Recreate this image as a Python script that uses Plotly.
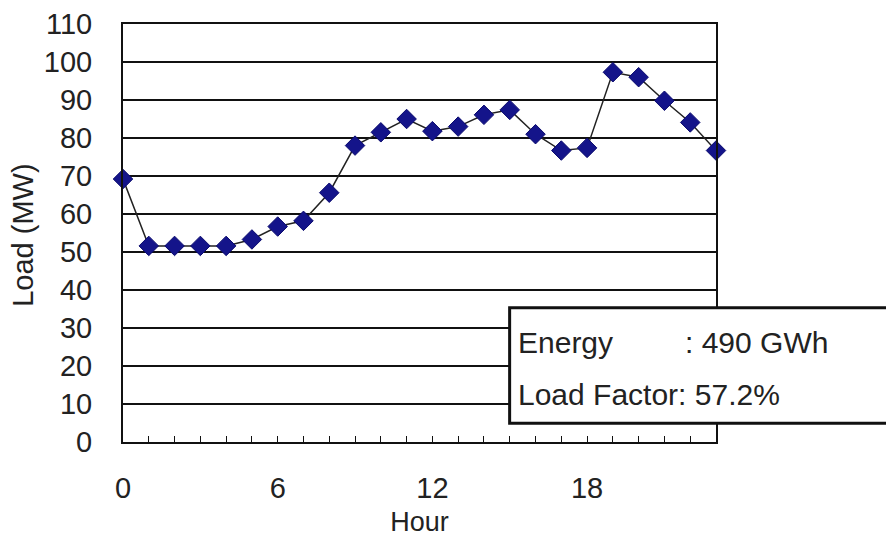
import plotly.graph_objects as go

hours = list(range(24))
load_mw = [69.2, 51.6, 51.6, 51.6, 51.6, 53.3, 56.7, 58.2, 65.6, 78.0, 81.5, 85.0,
           81.8, 83.0, 86.1, 87.4, 81.0, 76.7, 77.4, 97.3, 96.0, 89.8, 84.1, 76.7]
x_tickvals = [0, 6, 12, 18]
y_tickvals = list(range(0, 111, 10))
info_labels = ["Energy", ": 490 GWh", "Load Factor: 57.2%"]

FONT = "Liberation Sans, Arial, sans-serif"

fig = go.Figure()
fig.add_trace(go.Scatter(
    x=hours, y=load_mw, mode="lines+markers",
    line=dict(color="#222222", width=1.5),
    marker=dict(symbol="diamond", size=15, color="#14148a",
                line=dict(color="#0a0a6e", width=1)),
    cliponaxis=False, showlegend=False,
))

fig.update_layout(
    width=886, height=541,
    margin=dict(l=123, r=170, t=24, b=99),
    plot_bgcolor="white", paper_bgcolor="white",
    font=dict(family=FONT, size=28, color="#222222"),
    xaxis=dict(
        range=[0, 23], tickvals=x_tickvals, ticktext=[str(v) for v in x_tickvals],
        ticks="inside", ticklen=6, tickcolor="#111", tickwidth=1,
        minor=dict(dtick=1, tick0=0, ticks="inside", ticklen=6, tickcolor="#111", tickwidth=1, showgrid=False),
        showgrid=False, zeroline=False,
        showline=True, linecolor="#111", linewidth=2, mirror=True,
        ticklabelstandoff=19, automargin=False,
        title=dict(text="Hour", standoff=9, font=dict(size=27)),
        tickfont=dict(size=29),
    ),
    yaxis=dict(
        range=[0, 110], tickvals=y_tickvals,
        showgrid=True, gridcolor="#111", gridwidth=2,
        zeroline=False, showline=True, linecolor="#111", linewidth=2, mirror=True,
        ticks="", ticklabelstandoff=23, automargin=False,
        tickfont=dict(size=29),
    ),
)

fig.add_annotation(xref="paper", yref="paper", x=(23 - 123) / 592, y=(442 - 235) / 418,
                   text="Load (MW)", textangle=-90, showarrow=False,
                   xanchor="center", yanchor="middle", font=dict(size=29))

fig.add_shape(type="rect", xref="paper", yref="paper",
              x0=0.652, x1=1.32, y0=0.045, y1=0.3213,
              line=dict(color="#111", width=3), fillcolor="white", layer="above")

fig.add_annotation(xref="paper", yref="paper", x=(515 - 123) / 592, y=(442 - 342) / 418, text=info_labels[0],
                   showarrow=False, xanchor="left", yanchor="middle", font=dict(size=30))
fig.add_annotation(xref="paper", yref="paper", x=(682 - 123) / 592, y=(442 - 342) / 418, text=info_labels[1],
                   showarrow=False, xanchor="left", yanchor="middle", font=dict(size=30))
fig.add_annotation(xref="paper", yref="paper", x=(515 - 123) / 592, y=(442 - 394) / 418, text=info_labels[2],
                   showarrow=False, xanchor="left", yanchor="middle", font=dict(size=30))

fig.write_html("out.html")
